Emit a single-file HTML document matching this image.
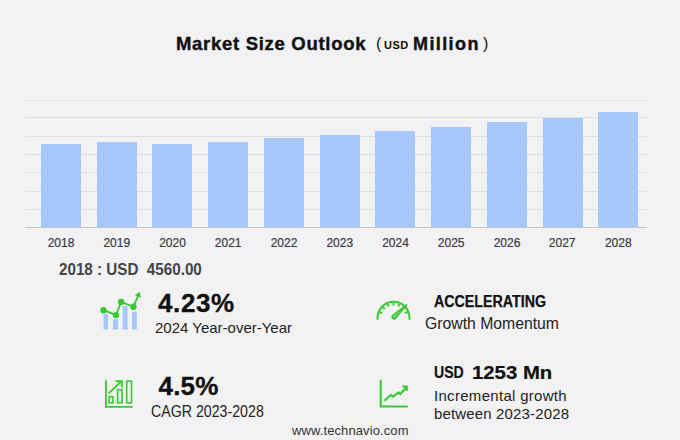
<!DOCTYPE html>
<html><head><meta charset="utf-8">
<style>
html,body{margin:0;padding:0;}
body{width:680px;height:440px;overflow:hidden;background:#f2f2f5;position:relative;font-family:"Liberation Sans",sans-serif;}
.t{position:absolute;white-space:pre;line-height:1;}
.g{position:absolute;left:25px;width:622px;height:1px;background:#dedee0;}
.bar{position:absolute;width:40px;background:#a7c8fd;bottom:213px;}
.xl{position:absolute;top:237px;width:56px;text-align:center;font-size:12px;color:#3a3a3a;line-height:1;-webkit-text-stroke:0.2px #3a3a3a;}
#panel{position:absolute;left:26px;top:276px;width:634px;height:136px;background:#f2f2f2;}
</style></head><body>
<div class="t" style="left:176px;top:35px;font-size:18.5px;font-weight:bold;color:#111;letter-spacing:0.7px;-webkit-text-stroke:0.4px #111;">Market Size Outlook</div>
<div class="t" style="left:376px;top:36px;font-size:16px;color:#111;">(</div>
<div class="t" style="left:384px;top:40px;font-size:11px;font-weight:bold;color:#111;letter-spacing:0.5px;">USD</div>
<div class="t" style="left:413px;top:35px;font-size:18px;font-weight:bold;color:#111;letter-spacing:1.4px;-webkit-text-stroke:0.4px #111;">Million</div>
<div class="t" style="left:483px;top:36px;font-size:16px;color:#111;">)</div>

<div class="g" style="top:100px"></div>
<div class="g" style="top:117px"></div>
<div class="g" style="top:136px"></div>
<div class="g" style="top:154px"></div>
<div class="g" style="top:172px"></div>
<div class="g" style="top:191px"></div>
<div class="g" style="top:209px"></div>
<div class="g" style="top:227px;background:#c8c8ca;"></div>

<div class="bar" style="left:41px;top:144px;"></div>
<div class="bar" style="left:97px;top:142px;"></div>
<div class="bar" style="left:152px;top:144px;"></div>
<div class="bar" style="left:208px;top:142px;"></div>
<div class="bar" style="left:264px;top:138px;"></div>
<div class="bar" style="left:320px;top:135px;"></div>
<div class="bar" style="left:375px;top:131px;"></div>
<div class="bar" style="left:431px;top:127px;"></div>
<div class="bar" style="left:487px;top:122px;"></div>
<div class="bar" style="left:543px;top:118px;"></div>
<div class="bar" style="left:598px;top:112px;"></div>

<div class="xl" style="left:33px">2018</div>
<div class="xl" style="left:88.8px">2019</div>
<div class="xl" style="left:144.5px">2020</div>
<div class="xl" style="left:200.2px">2021</div>
<div class="xl" style="left:256px">2022</div>
<div class="xl" style="left:311.8px">2023</div>
<div class="xl" style="left:367.5px">2024</div>
<div class="xl" style="left:423.2px">2025</div>
<div class="xl" style="left:479px">2026</div>
<div class="xl" style="left:534.2px">2027</div>
<div class="xl" style="left:590.3px">2028</div>

<div class="t" style="left:59px;top:262px;font-size:16px;font-weight:bold;color:#444;transform:scaleX(0.95);transform-origin:0 0;">2018 : USD  4560.00</div>

<div id="panel"></div>

<!-- KPI 1 icon -->
<svg style="position:absolute;left:0;top:0" width="680" height="440" viewBox="0 0 680 440">
  <g fill="#a7c8fd">
    <rect x="103.5" y="314" width="4.5" height="15.5"/>
    <rect x="113" y="319" width="5" height="10.5"/>
    <rect x="122.6" y="306" width="5" height="23.5"/>
    <rect x="132" y="311.7" width="4.8" height="17.8"/>
  </g>
  <g stroke="#36c932" stroke-width="1.8" fill="none">
    <polyline points="103.5,310.2 116,315.1 121.1,302 133.4,306.8 138,296"/>
  </g>
  <g fill="#36c932">
    <circle cx="103.5" cy="310.2" r="3.2"/>
    <circle cx="116" cy="315.1" r="3.2"/>
    <circle cx="121.1" cy="302" r="3.2"/>
    <circle cx="133.4" cy="306.8" r="3.2"/>
    <polygon points="139.7,291.8 134.8,295.3 141,297.8"/>
  </g>
  <!-- gauge -->
  <g stroke="#36c932" stroke-width="2" fill="none" stroke-linecap="butt">
    <path d="M377.5 319.8 L377.5 317.8 A16 16 0 0 1 409.5 317.8 L409.5 319.8"/>
    <line x1="379.46" y1="311.98" x2="382.14" y2="313.09"/>
    <line x1="382.75" y1="307.05" x2="384.80" y2="309.10"/>
    <line x1="387.68" y1="303.76" x2="388.79" y2="306.44"/>
    <line x1="393.50" y1="302.60" x2="393.50" y2="305.50"/>
    <line x1="399.32" y1="303.76" x2="398.21" y2="306.44"/>
    <line x1="407.54" y1="311.98" x2="404.86" y2="313.09"/>
  </g>
  <path d="M406.6 305 L395.5 318.2 A1.9 1.9 0 0 1 392.9 315.4 Z" fill="#7fd87f" stroke="#36c932" stroke-width="1.7" stroke-linejoin="round"/>
  <!-- CAGR icon -->
  <g stroke="#36c932" stroke-width="1.6" fill="none">
    <path d="M105.9 379.8 L105.9 406.9 L132.7 406.9" stroke-width="1.8"/>
    <rect x="109.2" y="396.7" width="3.8" height="6.1"/>
    <rect x="117.6" y="389.7" width="4.4" height="13.1"/>
    <rect x="126.7" y="381.1" width="4.8" height="21.7"/>
    <path d="M108.6 393.4 L121.2 381.4" stroke-width="1.9"/>
    <path d="M115.5 381.3 L121.8 381.3 L121.8 387.4" stroke-width="1.9"/>
  </g>
  <!-- trend icon -->
  <g stroke="#36c932" stroke-width="2" fill="none">
    <path d="M380.7 379.7 L380.7 406.5 L407.8 406.5"/>
    <path d="M384.3 400.7 L391 394.8 L393 396.6 L398.5 392.4 L400.2 394.2 L406.5 387"/>
    <path d="M402.3 386.6 L406.8 386.6 L406.8 391"/>
  </g>
</svg>

<div class="t" style="left:158px;top:290px;font-size:26px;font-weight:bold;color:#111;letter-spacing:0.6px;-webkit-text-stroke:0.3px #111;">4.23%</div>
<div class="t" style="left:155px;top:320px;font-size:15px;color:#222;">2024 Year-over-Year</div>

<div class="t" style="left:434px;top:294px;font-size:16px;font-weight:bold;color:#111;transform:scaleX(0.89);transform-origin:0 0;-webkit-text-stroke:0.25px #111;">ACCELERATING</div>
<div class="t" style="left:425px;top:315.5px;font-size:16px;color:#222;transform:scaleX(0.985);transform-origin:0 0;">Growth Momentum</div>

<div class="t" style="left:158.5px;top:373px;font-size:26px;font-weight:bold;color:#111;letter-spacing:0.2px;-webkit-text-stroke:0.3px #111;">4.5%</div>
<div class="t" style="left:151px;top:403px;font-size:16.5px;color:#222;transform:scaleX(0.86);transform-origin:0 0;">CAGR 2023-2028</div>

<div class="t" style="left:434px;top:365px;font-size:16px;font-weight:bold;color:#111;transform:scaleX(0.88);transform-origin:0 0;-webkit-text-stroke:0.2px #111;">USD</div>
<div class="t" style="left:472px;top:364px;font-size:18px;font-weight:bold;color:#111;transform:scaleX(1.13);transform-origin:0 0;-webkit-text-stroke:0.2px #111;">1253 Mn</div>
<div class="t" style="left:434px;top:388px;font-size:15px;color:#222;letter-spacing:0.3px;">Incremental growth</div>
<div class="t" style="left:434px;top:406px;font-size:15px;color:#222;letter-spacing:0.15px;">between 2023-2028</div>

<div class="t" style="left:292px;top:424px;font-size:13px;color:#333;letter-spacing:0.1px;">www.technavio.com</div>
</body></html>
